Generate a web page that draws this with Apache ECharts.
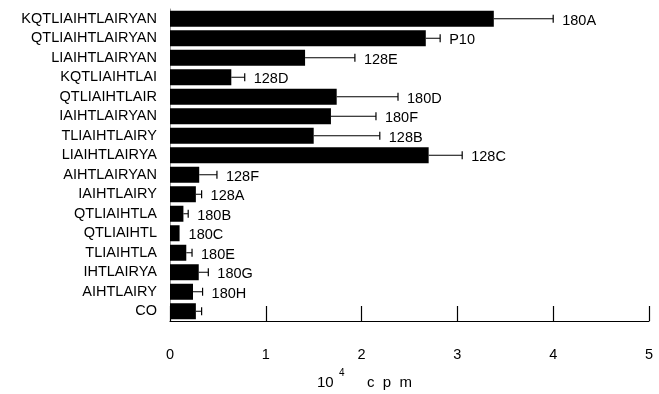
<!DOCTYPE html>
<html>
<head>
<meta charset="utf-8">
<script src="https://cdn.jsdelivr.net/npm/echarts@6/dist/echarts.min.js"></script>
<style>
html,body{margin:0;padding:0;background:#fff;}
#c{width:659px;height:394px;}
</style>
</head>
<body>
<div id="c"></div>
<script>
const categories = ['KQTLIAIHTLAIRYAN','QTLIAIHTLAIRYAN','LIAIHTLAIRYAN','KQTLIAIHTLAI','QTLIAIHTLAIR','IAIHTLAIRYAN','TLIAIHTLAIRY','LIAIHTLAIRYA','AIHTLAIRYAN','IAIHTLAIRY','QTLIAIHTLA','QTLIAIHTL','TLIAIHTLA','IHTLAIRYA','AIHTLAIRY','CO'];
const values = [3.38, 2.67, 1.41, 0.64, 1.74, 1.68, 1.50, 2.70, 0.305, 0.27, 0.14, 0.10, 0.17, 0.30, 0.24, 0.27];
const errorTops = [4.00, 2.82, 1.93, 0.78, 2.38, 2.15, 2.19, 3.05, 0.49, 0.33, 0.19, 0.10, 0.23, 0.40, 0.34, 0.33];
const tags = ['180A','P10','128E','128D','180D','180F','128B','128C','128F','128A','180B','180C','180E','180G','180H',''];
const xTicks = [0, 1, 2, 3, 4, 5];

const FONT = '"Liberation Sans", Arial, sans-serif';
const chart = echarts.init(document.getElementById('c'));
const errData = categories.map((c, i) => [i, values[i], errorTops[i], tags[i]]);
const ts = (size) => ({fontFamily: FONT, fontSize: size, fontWeight: 'normal', color: '#000', lineHeight: size});

chart.setOption({
  animation: false,
  backgroundColor: '#fff',
  title: [
    {text: '10', left: 317, top: 375, padding: 0, textStyle: ts(15)},
    {text: '4', left: 339, top: 368, padding: 0, textStyle: ts(10)},
    {text: 'c  p  m', left: 367, top: 375, padding: 0, textStyle: ts(15)}
  ],
  grid: {left: 170, right: 10, top: 9, bottom: 73},
  xAxis: {
    type: 'value', min: xTicks[0], max: xTicks[xTicks.length-1], interval: 1,
    axisLine: {show: true, lineStyle: {color: '#000', width: 1.2}},
    axisTick: {show: true, inside: true, length: 15, lineStyle: {color: '#000', width: 1.2}},
    axisLabel: {margin: 26, fontFamily: FONT, fontSize: 14.5, color: '#000'},
    splitLine: {show: false}
  },
  yAxis: {
    type: 'category', data: categories, inverse: true,
    axisLine: {show: true, lineStyle: {color: '#999', width: 1}},
    axisTick: {show: false},
    axisLabel: {interval: 0, margin: 13, fontFamily: FONT, fontSize: 14.5, color: '#000'}
  },
  series: [
    {
      type: 'bar', data: values, barWidth: 16,
      itemStyle: {color: '#000'}
    },
    {
      type: 'custom', data: errData,
      encode: {x: [1, 2], y: 0},
      z: 5,
      renderItem: function (params, api) {
        const idx = api.value(0);
        const v = api.value(1);
        const e = api.value(2);
        const tag = errData[params.dataIndex][3];
        const p0 = api.coord([v, idx]);
        const p1 = api.coord([e, idx]);
        const children = [];
        if (e > v) {
          children.push({type: 'line', shape: {x1: p0[0], y1: p0[1], x2: p1[0], y2: p1[1]}, style: {stroke: '#000', lineWidth: 1}});
          children.push({type: 'line', shape: {x1: p1[0], y1: p1[1]-4, x2: p1[0], y2: p1[1]+4}, style: {stroke: '#000', lineWidth: 1.2}});
        }
        if (tag) {
          children.push({type: 'text', x: p1[0] + 9, y: p1[1] + 2,
            style: {text: tag, fontFamily: FONT, fontSize: 14.5, fill: '#000', textAlign: 'left', textVerticalAlign: 'middle'}});
        }
        return {type: 'group', children: children};
      }
    }
  ]
});
</script>
</body>
</html>
